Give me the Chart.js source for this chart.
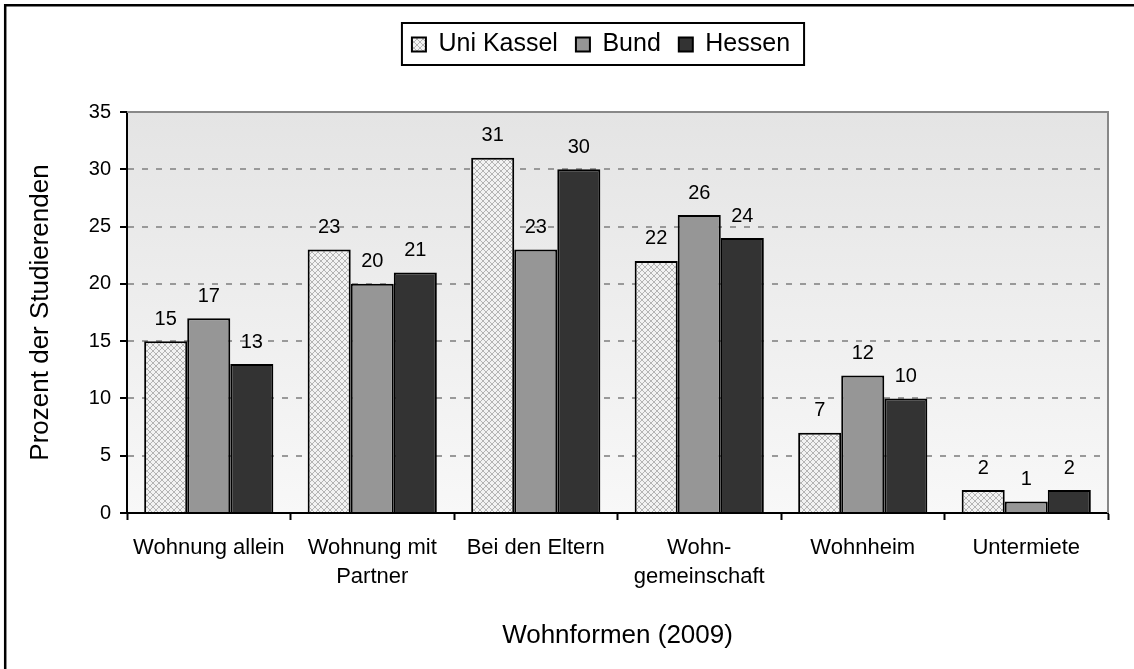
<!DOCTYPE html>
<html>
<head>
<meta charset="utf-8">
<script src="https://cdn.jsdelivr.net/npm/chart.js@4"></script>
<style>
  body { margin: 0; background: #fff; }
  #wrap { width: 1134px; height: 669px; }
</style>
</head>
<body>
<div id="wrap"><canvas id="wohnChart" width="1134" height="669"></canvas></div>
<script>
// data
const categories = [['Wohnung allein'], ['Wohnung mit', 'Partner'], ['Bei den Eltern'], ['Wohn-', 'gemeinschaft'], ['Wohnheim'], ['Untermiete']];
const uniKassel = [15, 23, 31, 22, 7, 2];
const bund = [17, 20, 23, 26, 12, 1];
const hessen = [13, 21, 30, 24, 10, 2];
const yTicks = { min: 0, max: 35, step: 5 };

const FONT = "'Liberation Sans', Arial, sans-serif";

/* crosshatch fill for Uni Kassel */
function makePattern() {
    const c = document.createElement('canvas');
    c.width = 6; c.height = 6;
    const g = c.getContext('2d');
    g.fillStyle = '#f2f2f2';
    g.fillRect(0, 0, 6, 6);
    g.strokeStyle = '#b4b4b4';
    g.lineWidth = 1;
    g.beginPath();
    g.moveTo(0, 0); g.lineTo(6, 6);
    g.moveTo(6, 0); g.lineTo(0, 6);
    g.stroke();
    return g.createPattern(c, 'repeat');
}
const hatch = makePattern();

/* plot background, frame, value labels, legend box */
const decor = {
    id: 'decor',
    beforeLayout(chart) {
        const lg = chart.legend;
        if (lg && !lg._patched) {
            const fit = lg.fit;
            lg.fit = function () { fit.call(this); this.height = 98; };
            lg._patched = true;
        }
    },
    afterLayout(chart) {
        // legend sits a bit right of centre in the original
        chart.legend.left += 47;
        chart.legend.right += 47;
    },
    beforeDraw(chart) {
        const { ctx, chartArea: a } = chart;
        ctx.save();
        ctx.fillStyle = '#fff';
        ctx.fillRect(0, 0, chart.width, chart.height);
        const grad = ctx.createLinearGradient(0, a.top, 0, a.bottom);
        grad.addColorStop(0, '#e4e4e4');
        grad.addColorStop(1, '#f8f8f8');
        ctx.fillStyle = grad;
        ctx.fillRect(a.left, a.top, a.right - a.left, a.bottom - a.top);
        ctx.restore();
    },
    beforeDatasetsDraw(chart) {
        const { ctx, chartArea: a } = chart;
        ctx.save();
        ctx.strokeStyle = '#888';
        ctx.lineWidth = 2;
        ctx.beginPath();
        ctx.moveTo(a.left, a.top);
        ctx.lineTo(a.right, a.top);
        ctx.lineTo(a.right, a.bottom);
        ctx.stroke();
        ctx.restore();
    },
    afterDatasetsDraw(chart) {
        const ctx = chart.ctx;
        ctx.save();
        ctx.fillStyle = '#000';
        ctx.font = '20px ' + FONT;
        ctx.textAlign = 'center';
        ctx.textBaseline = 'middle';
        chart.data.datasets.forEach((ds, i) => {
            chart.getDatasetMeta(i).data.forEach((bar, j) => {
                ctx.fillText(ds.data[j], bar.x, bar.y - 22);
            });
        });
        ctx.restore();
    },
    afterDraw(chart) {
        const ctx = chart.ctx;
        const boxes = chart.legend.legendHitBoxes;
        ctx.save();
        if (boxes && boxes.length) {
            const last = boxes[boxes.length - 1];
            const l = boxes[0].left - 10;
            const r = last.left + last.width + 14;
            const t = boxes[0].top - 9;
            const b = boxes[0].top + boxes[0].height + 8;
            ctx.strokeStyle = '#000';
            ctx.lineWidth = 2;
            ctx.strokeRect(l, t, r - l, b - t);
        }
        // outer frame (left and top edges only)
        ctx.strokeStyle = '#000';
        ctx.lineWidth = 2.5;
        ctx.beginPath();
        ctx.moveTo(5.2, chart.height);
        ctx.lineTo(5.2, 5.2);
        ctx.lineTo(chart.width, 5.2);
        ctx.stroke();
        ctx.restore();
    }
};

Chart.defaults.font.family = FONT;
Chart.defaults.color = '#000';

new Chart(document.getElementById('wohnChart'), {
    type: 'bar',
    data: {
        labels: categories,
        datasets: [
            { label: 'Uni Kassel', data: uniKassel, backgroundColor: hatch },
            { label: 'Bund', data: bund, backgroundColor: '#969696' },
            { label: 'Hessen', data: hessen, backgroundColor: '#333333' }
        ]
    },
    options: {
        responsive: false,
        animation: false,
        devicePixelRatio: 1,
        layout: { padding: { top: 14, right: 26, bottom: 0, left: 0 } },
        datasets: {
            bar: {
                borderColor: '#000',
                borderWidth: 2,
                categoryPercentage: 0.79,
                barPercentage: 1
            }
        },
        plugins: {
            legend: {
                position: 'top',
                labels: {
                    boxWidth: 14,
                    boxHeight: 14,
                    padding: 18,
                    color: '#000',
                    font: { size: 25 }
                }
            },
            tooltip: { enabled: false }
        },
        scales: {
            x: {
                afterFit(scale) { scale.height = 156; },
                grid: {
                    drawOnChartArea: false,
                    tickLength: 7,
                    tickColor: '#000',
                    tickWidth: 2
                },
                border: { color: '#000', width: 2 },
                ticks: {
                    padding: 14,
                    color: '#000',
                    font: { size: 22, lineHeight: 1.3 }
                },
                title: {
                    display: true,
                    text: 'Wohnformen (2009)',
                    color: '#000',
                    font: { size: 26, lineHeight: 1.2 },
                    padding: { top: 0, bottom: 18 }
                }
            },
            y: {
                min: yTicks.min,
                max: yTicks.max,
                afterFit(scale) { scale.width = 127; },
                grid: {
                    color: (c) => (c.tick && (c.tick.value === yTicks.min || c.tick.value === yTicks.max)) ? 'rgba(0,0,0,0)' : '#999',
                    lineWidth: 2,
                    tickLength: 7,
                    tickColor: '#000',
                    tickWidth: 2
                },
                border: { color: '#000', width: 2, dash: [6, 8] },
                ticks: {
                    stepSize: yTicks.step,
                    padding: 9,
                    color: '#000',
                    font: { size: 20 }
                },
                title: {
                    display: true,
                    text: 'Prozent der Studierenden',
                    color: '#000',
                    font: { size: 26, lineHeight: 1.2 },
                    padding: { top: 25, bottom: 0 }
                }
            }
        }
    },
    plugins: [decor]
});
</script>
</body>
</html>
